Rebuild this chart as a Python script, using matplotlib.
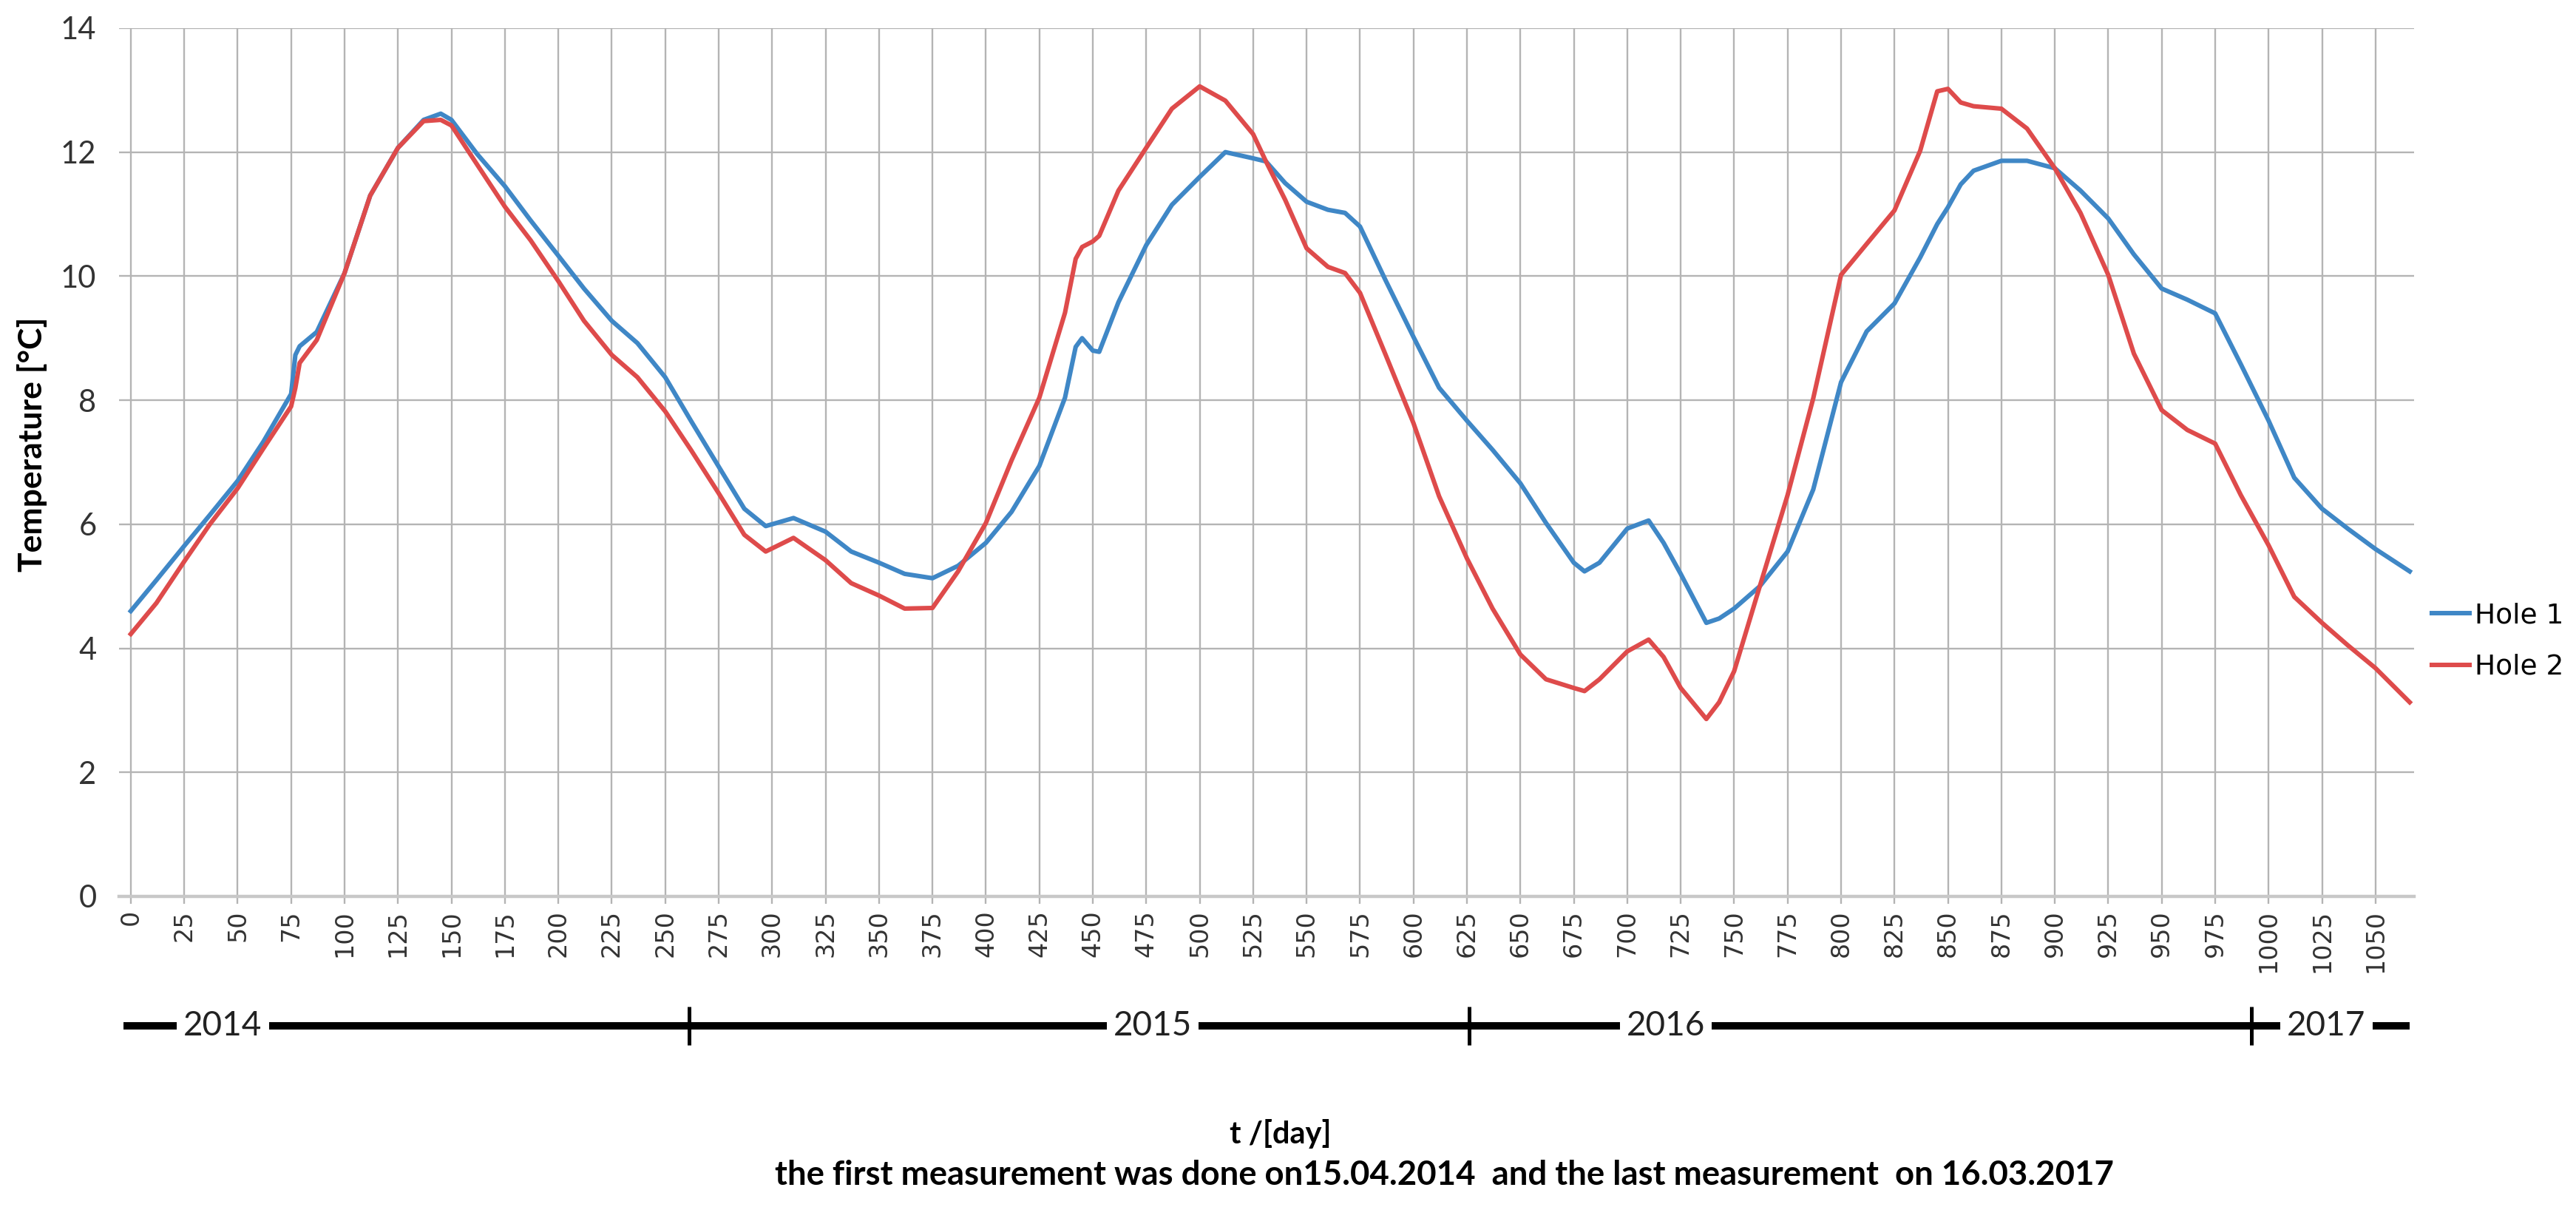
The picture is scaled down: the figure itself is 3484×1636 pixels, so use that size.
import matplotlib
matplotlib.use("Agg")
import matplotlib.pyplot as plt
import matplotlib.transforms as mtransforms

days = [0, 12, 25, 37, 50, 62, 75, 77, 79, 87, 100, 112, 125, 137, 145, 150, 162, 175,
        187, 200, 212, 225, 237, 250, 262, 275, 287, 297, 310, 325, 337, 350, 362, 375,
        387, 400, 412, 425, 437, 442, 445, 450, 453, 462, 475, 487, 500, 512, 525, 531,
        540, 550, 560, 568, 575, 587, 600, 612, 625, 637, 650, 662, 675, 680, 687, 700,
        710, 717, 725, 737, 743, 750, 762, 775, 787, 800, 812, 825, 837, 845, 850, 856,
        862, 875, 887, 900, 912, 925, 937, 950, 962, 975, 987, 1000, 1012, 1025, 1037,
        1050, 1066]

hole1 = [4.60, 5.10, 5.65, 6.15, 6.70, 7.33, 8.10, 8.73, 8.87, 9.10, 10.05, 11.30, 12.07,
         12.52, 12.62, 12.52, 11.97, 11.45, 10.90, 10.33, 9.80, 9.28, 8.92, 8.37, 7.67,
         6.93, 6.25, 5.97, 6.10, 5.88, 5.56, 5.38, 5.20, 5.13, 5.33, 5.70, 6.20, 6.94,
         8.04, 8.86, 9.00, 8.80, 8.78, 9.58, 10.50, 11.15, 11.60, 12.00, 11.90, 11.85,
         11.50, 11.20, 11.07, 11.02, 10.80, 9.93, 9.02, 8.20, 7.67, 7.20, 6.66, 6.02,
         5.38, 5.24, 5.38, 5.93, 6.06, 5.70, 5.20, 4.41, 4.48, 4.64, 5.00, 5.56, 6.56,
         8.29, 9.11, 9.56, 10.30, 10.84, 11.11, 11.48, 11.70, 11.86, 11.86, 11.74, 11.38,
         10.93, 10.35, 9.80, 9.62, 9.40, 8.58, 7.67, 6.75, 6.25, 5.93, 5.60, 5.24]

hole2 = [4.23, 4.73, 5.40, 6.00, 6.58, 7.22, 7.90, 8.20, 8.60, 8.97, 10.05, 11.30, 12.07,
         12.50, 12.52, 12.43, 11.80, 11.12, 10.58, 9.92, 9.28, 8.73, 8.37, 7.82, 7.20,
         6.50, 5.83, 5.56, 5.78, 5.42, 5.05, 4.85, 4.64, 4.65, 5.24, 6.02, 7.03, 8.04,
         9.41, 10.28, 10.47, 10.56, 10.65, 11.38, 12.07, 12.70, 13.06, 12.83, 12.29, 11.85,
         11.23, 10.45, 10.15, 10.05, 9.73, 8.73, 7.63, 6.45, 5.45, 4.64, 3.90, 3.50,
         3.36, 3.31, 3.50, 3.95, 4.14, 3.86, 3.36, 2.86, 3.13, 3.63, 5.00, 6.47, 8.03,
         10.02, 10.52, 11.06, 12.02, 12.98, 13.02, 12.80, 12.74, 12.70, 12.38, 11.74, 11.02,
         10.02, 8.75, 7.84, 7.52, 7.30, 6.47, 5.66, 4.83, 4.41, 4.05, 3.68, 3.13]

x_ticks = list(range(0, 1051, 25))
y_ticks = [0, 2, 4, 6, 8, 10, 12, 14]

year_labels = ["2014", "2015", "2016", "2017"]
year_label_days = [43, 478, 718, 1027]
year_change_days = [261, 626, 992]   # 01.01.2015, 01.01.2016, 01.01.2017

blue = "#3F87C6"
red = "#DE4B4B"
grid_c = "#B4B4B4"

fig = plt.figure(figsize=(17.42, 8.18), dpi=200, facecolor="white")
ax = fig.add_axes([0.0462, 0.2592, 0.8909, 0.7176])

ax.plot(days, hole1, color=blue, lw=2.2, label="Hole 1", solid_joinstyle="round")
ax.plot(days, hole2, color=red, lw=2.2, label="Hole 2", solid_joinstyle="round")

ax.set_xlim(-5.5, 1068)
ax.set_ylim(0, 14)
ax.set_xticks(x_ticks)
ax.set_yticks(y_ticks)
ax.set_xticklabels([str(t) for t in x_ticks], rotation=90, fontsize=12,
                   family="DejaVu Sans", color="#333333")
ax.set_yticklabels([str(t) for t in y_ticks], fontsize=15, family="Lato", color="#333333")
ax.grid(True, color=grid_c, lw=0.85)
ax.set_axisbelow(True)
for s in ["top", "right", "left"]:
    ax.spines[s].set_visible(False)
ax.spines["bottom"].set_color("#C8C8C8")
ax.spines["bottom"].set_linewidth(1.6)
ax.tick_params(axis="x", length=3.5, color=grid_c, width=0.85, pad=3)
ax.tick_params(axis="y", length=0, pad=11)

# year bar below the day axis
trans = mtransforms.blended_transform_factory(ax.transData, ax.transAxes)
ax.plot([-3.5, 1066], [-0.149, -0.149], color="black", lw=3.6, transform=trans,
        clip_on=False, solid_capstyle="butt")
ax.plot(year_change_days, [-0.149] * len(year_change_days), color="black", ls="none",
        marker="|", ms=19, mew=1.8, transform=trans, clip_on=False)
for lab, d in zip(year_labels, year_label_days):
    ax.text(d, -0.149, lab, transform=trans, ha="center", va="center", fontsize=16.5,
            family="Lato", color="#222222",
            bbox=dict(boxstyle="square,pad=0.2", fc="white", ec="none"))

fig.text(0.0126, 0.633, "Temperature [°C]", rotation=90, ha="center", va="center",
         fontsize=16, fontweight="bold", family="Lato")
fig.text(0.497, 0.063, "t /[day]", ha="center", va="center", fontsize=15,
         fontweight="bold", family="Lato")
fig.text(0.5606, 0.029,
         "the first measurement was done on15.04.2014  and the last measurement  on 16.03.2017",
         ha="center", va="center", fontsize=16.4, fontweight="bold", family="Lato")

leg = fig.legend(loc="center left", bbox_to_anchor=(0.944, 0.470), frameon=False,
                 prop={"family": "DejaVu Sans", "size": 13.5}, handlelength=1.36,
                 handletextpad=0.2, labelspacing=0.9, borderpad=0, borderaxespad=0)

fig.savefig("out.png", dpi=200, facecolor="white")
